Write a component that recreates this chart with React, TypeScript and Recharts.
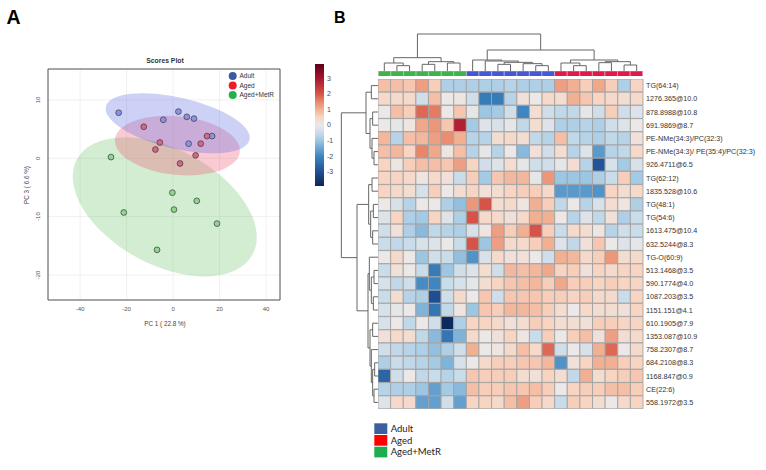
import React from 'react';
import {
  ScatterChart, Scatter, XAxis, YAxis, CartesianGrid, ReferenceArea,
  BarChart, Bar, Cell,
} from 'recharts';

const FONT = '"Liberation Sans", Arial, sans-serif';

// ---------------- Panel A : PCA scores ----------------
const adultScores = [
  { x: -23.4, y: 7.8 }, { x: -4.2, y: 6.6 }, { x: 2.3, y: 8.0 }, { x: 5.9, y: 7.1 },
  { x: 9.0, y: 6.8 }, { x: 6.7, y: 2.5 }, { x: 16.8, y: 3.8 },
];
const agedScores = [
  { x: -12.6, y: 5.4 }, { x: -5.7, y: 2.7 }, { x: -7.6, y: 1.5 }, { x: 3.0, y: -0.9 },
  { x: 9.7, y: 0.5 }, { x: 11.9, y: 2.5 }, { x: 14.6, y: 3.8 },
];
const metrScores = [
  { x: -26.7, y: 0.2 }, { x: -21.2, y: -9.3 }, { x: -0.3, y: -5.9 }, { x: 0.4, y: -8.8 },
  { x: 10.2, y: -7.3 }, { x: 18.9, y: -11.2 }, { x: -6.9, y: -15.7 },
];
// confidence ellipses: centre, end of semi-major axis, end of semi-minor axis
const adultEllipse = [{ x: 2.0, y: 6.0 }, { x: 32.9, y: 3.16 }, { x: -0.47, y: 1.71 }];
const agedEllipse = [{ x: 1.86, y: 2.17 }, { x: 28.7, y: 1.09 }, { x: 0.54, y: -2.83 }];
const metrEllipse = [{ x: -3.58, y: -8.34 }, { x: 34.2, y: -16.49 }, { x: -15.38, y: -17.04 }];
const pcaXDomain = [-53.8, 46];
const pcaYDomain = [-24.3, 15.3];
const pcaXTicks = [-40, -20, 0, 20, 40];
const pcaYTicks = [-20, -10, 0, 10];

// ---------------- Panel B : heatmap ----------------
const featureLabels = [
  'TG(64:14)', '1276.365@10.0', '878.8988@10.8', '691.9869@8.7', 'PE-NMe(34:3)/PC(32:3)',
  'PE-NMe(34:3)/ PE(35:4)/PC(32:3)', '926.4711@6.5', 'TG(62:12)', '1835.528@10.6', 'TG(48:1)',
  'TG(54:6)', '1613.475@10.4', '632.5244@8.3', 'TG-O(60:9)', '513.1468@3.5',
  '590.1774@4.0', '1087.203@3.5', '1151.151@4.1', '610.1905@7.9', '1353.087@10.9',
  '758.2307@8.7', '684.2108@8.3', '1168.847@0.9', 'CE(22:6)', '558.1972@3.5',
];
const columnGroups = [
  'Aged+MetR', 'Aged+MetR', 'Aged+MetR', 'Aged+MetR', 'Aged+MetR', 'Aged+MetR', 'Aged+MetR',
  'Adult', 'Adult', 'Adult', 'Adult', 'Adult', 'Adult', 'Adult',
  'Aged', 'Aged', 'Aged', 'Aged', 'Aged', 'Aged', 'Aged',
];
const heatValues = [
  [0.8, 0.8, 0.7, 1.2, 0.6, -0.8, -0.8, -0.8, -0.8, -0.8, -0.7, -0.8, -0.8, -0.8, 1.2, 1.0, 0.6, 1.1, 0.6, -0.8, 0.5],
  [0.4, 0.4, 0.4, -0.4, 0.8, 0, 0.1, -0.4, -2.2, -2.2, -0.7, 0.2, 0, 0.4, 0.3, 1.0, 0.7, 0.5, 0.4, 0.3, 0.4],
  [0, 0.8, 0.6, 1.8, 1.6, 0, 0.7, -0.1, -1.0, -0.9, -0.4, -2.0, 0.3, -0.4, -0.6, -0.6, -0.1, -0.4, 0.6, -0.4, -0.2],
  [0, -0.1, 0.1, 1.1, 1.3, 0.7, 2.8, -0.9, -0.2, -0.3, -0.1, -0.6, 0.3, -0.2, -0.8, -0.8, -0.7, -0.8, -0.4, -0.2, 0],
  [0.9, -0.7, 0.8, 0.9, 1.2, 1.4, 1.0, -0.7, -0.7, 0.3, 0.4, 0.3, -0.6, -0.7, 0.8, -0.6, -0.7, -0.8, -0.6, -0.7, 0.2],
  [0.8, 0.9, 0.5, 1.5, 1.1, 0.1, 0.8, -0.7, -0.1, -0.7, 0, -1.2, 0.2, -0.4, 0.3, -0.7, -0.2, -1.7, -0.7, -0.6, 0.4],
  [0.5, 0.1, 0.6, 0.8, 0.8, 0.7, 1.2, 0.5, -0.4, -0.2, 0.3, -0.1, -0.4, -0.4, -0.1, 0.3, -0.7, -2.9, -0.3, -0.9, -0.3],
  [0.5, 0.5, 0.4, 0.1, 0.4, 0.2, -0.5, 0.6, -0.9, 0.7, 0.9, 0.9, -0.1, 1.3, -1.0, -1.0, -1.0, -0.8, -0.5, 0.6, -0.9],
  [0.5, 0.4, 0.3, -0.3, 0.6, 0, 0.3, 0.5, 0.2, 0.3, 0.5, 0.6, 0.6, 0.4, -1.7, -1.7, -1.7, -1.8, 0.5, 0.3, 0.4],
  [0, -0.3, -0.7, 0, 0, -0.8, -1.1, 1.3, 2.0, 0.3, 0.4, 0.1, 1.0, 0.6, -0.6, 0, -0.7, -0.3, 0.3, 0.1, -0.8],
  [-0.2, 0.5, -0.8, -0.9, 0.5, -0.2, -0.8, 2.0, 0.4, 0.4, 0.2, 0.4, 1.0, 1.0, 0, -0.7, -0.2, -0.6, 0.2, -0.8, -0.5],
  [-0.4, 0.2, -0.8, -1.2, -0.6, -0.7, -0.8, -0.3, 0.1, 1.2, 0.6, 1.0, 2.0, 0.6, -0.5, 0.4, 0.3, 0.1, -0.7, -0.4, -0.5],
  [-0.5, -0.6, -0.5, -0.3, -0.2, 0, -0.5, 2.0, -1.0, 1.2, 0.4, 0.4, 0.6, 1.0, -0.2, -0.6, 0.2, 0.7, 0, -0.2, -0.1],
  [0, 0.4, 0, -1.0, -0.4, -0.5, -1.1, -1.8, -0.3, 0.4, 0.2, 0.2, 0, -0.4, 1.0, 0.9, 0.4, 0.6, 1.3, 0.3, 0.4],
  [-0.5, 0.2, 0, -0.5, -2.2, -1.0, -0.4, -0.2, 0.3, -0.4, 0.9, 0.8, 0.9, 1.1, 0.5, 0.6, 0.2, 0.5, 0.4, 0.5, 0.5],
  [-0.3, -0.6, -0.4, -1.9, -2.0, -0.5, -0.3, -0.1, 0.3, 0.5, 0.7, 0.8, 0.9, 0.6, 1.1, 0.6, 0.6, 0.5, 0.6, 0.5, 0.5],
  [-0.5, 0.3, -0.7, -0.8, -3.0, -0.4, 0.4, 0, 0.7, -0.4, 0.7, 0.7, 0.7, 0.6, 0.6, 0.5, 0.6, 0.4, 0.4, -0.5, 0.5],
  [-0.3, -0.1, 0, -1.3, -2.3, -0.6, 0.1, -1.0, 0.7, 0.6, 0.9, 0.9, 0.8, 0.6, 0.3, 0, 0.4, 0.3, 0.3, 0.2, 0.5],
  [-0.3, 0, -0.6, 0, -0.4, -3.8, -0.8, 0.5, 0.5, 0.4, 0.2, 0.3, 0.6, 0.5, 0.3, 0.3, 0.2, 0.6, 0.6, 0.5, 0.5],
  [0.2, 0.4, 0.3, -0.6, -1.2, -2.3, -1.3, 0.4, 0, 0.2, 0.5, 0.1, -0.5, 0.6, 0, 0.6, 0.8, 0.2, 1.2, 0.3, 0.4],
  [-0.4, -0.6, -0.7, -0.8, -1.1, -0.8, -0.4, 1.0, 0, 0.1, 0.4, 0.8, 0.4, 1.8, -0.4, 0, -0.3, 1.0, 1.8, 0, 0.4],
  [-0.8, -0.5, -0.6, -0.7, -0.9, -1.3, -0.3, 0, 0.4, 0.6, 0.6, 0.7, 0.7, 0.9, -1.8, 0.2, 0.5, 1.0, 1.0, 0.6, 0.5],
  [-2.6, -0.4, 0, -0.6, -0.5, -0.7, -0.5, 0.7, 0.6, 0.6, 0.6, 0.3, 0.2, 0.5, 0.3, -0.6, 1.0, 0.3, 0.5, 0.6, 0.7],
  [-0.7, -0.8, -0.8, -1.0, -1.6, -0.9, -1.2, 0.8, 0.6, 0.6, 0.7, 0.7, 0.8, 0.6, 0, 0.5, 0.6, 0.6, 0.8, 0.8, 0.6],
  [-0.2, 0.4, 0.4, -1.6, -1.6, -0.4, -1.6, 0.5, 0.5, 0.4, 0.8, 1.2, 0.6, 0.4, -0.5, 0.6, 0.5, 0.3, 0, 0.4, 0.5],
];
const colorbarTicks = [3, 2, 1, 0, -1, -2, -3];
const colorbarRange = [-3.9, 3.9];

type Ref = number | string;
// hierarchical clustering merges: [child a, child b, merge height]
const columnMerges: [Ref, Ref, number][] = [
  [1, 2, 16], [0, 'n0', 24], [3, 4, 20], [5, 6, 24], ['n2', 'n3', 28], ['n1', 'n4', 40],
  [12, 13, 16], [11, 'n6', 22], [9, 10, 20], ['n8', 'n7', 26], [8, 'n9', 30], [7, 'n10', 33],
  [15, 16, 16], [14, 'n12', 24], [17, 18, 25], [19, 20, 18], ['n14', 'n15', 28], ['n13', 'n16', 33],
  ['n11', 'n17', 63], ['n5', 'n18', 111],
];
const rowMerges: [Ref, Ref, number][] = [
  [0, 1, 20], [2, 3, 16], [5, 6, 12], [4, 'n2', 18], ['n1', 'n3', 24], ['n0', 'n4', 36],
  [7, 8, 18], [9, 10, 14], [11, 12, 16], ['n7', 'n8', 22], ['n6', 'n9', 28],
  [14, 15, 12], [16, 17, 14], ['n11', 'n12', 20], [13, 'n13', 26],
  [18, 19, 16], [21, 22, 10], [23, 24, 12], ['n16', 'n17', 16], [20, 'n18', 20], ['n15', 'n19', 24],
  ['n14', 'n20', 30], ['n10', 'n21', 63], ['n5', 'n22', 110],
];

// ---------------- styling ----------------
const colorStops: [number, string][] = [
  [-3.9, '#0a2755'], [-3, '#1f4f92'], [-2, '#3d86c2'], [-1, '#9cc6e2'], [-0.5, '#c9dcea'],
  [0, '#ebe8e7'], [0.5, '#f8d5c3'], [1, '#f2b093'], [1.5, '#e8866a'], [2, '#d65447'],
  [3, '#a8142c'], [3.9, '#5e0019'],
];
const stripColors: Record<string, string> = { Adult: '#4757d3', Aged: '#e3174b', 'Aged+MetR': '#3cb44a' };
const legendBColors: Record<string, string> = { Adult: '#3c5f9e', Aged: '#fe0000', 'Aged+MetR': '#1eae4f' };
const legendAColors: Record<string, string> = { Adult: '#3b5ba5', Aged: '#ee1c25', 'Aged+MetR': '#22b14c' };

function hex(h: string) {
  return [parseInt(h.slice(1, 3), 16), parseInt(h.slice(3, 5), 16), parseInt(h.slice(5, 7), 16)];
}
function heatColor(v: number) {
  const s = colorStops;
  if (v <= s[0][0]) return s[0][1];
  if (v >= s[s.length - 1][0]) return s[s.length - 1][1];
  for (let i = 0; i < s.length - 1; i++) {
    if (v >= s[i][0] && v <= s[i + 1][0]) {
      const t = (v - s[i][0]) / (s[i + 1][0] - s[i][0]);
      const a = hex(s[i][1]);
      const b = hex(s[i + 1][1]);
      const c = a.map((x, k) => Math.round(x + (b[k] - x) * t));
      return `rgb(${c[0]},${c[1]},${c[2]})`;
    }
  }
  return s[0][1];
}

function layoutTree(merges: [Ref, Ref, number][]) {
  const nodes: Record<string, { p: number; h: number }> = {};
  const get = (r: Ref) => (typeof r === 'number' ? { p: r + 0.5, h: 0 } : nodes[r]);
  return merges.map(([a, b, h], i) => {
    const A = get(a);
    const B = get(b);
    nodes['n' + i] = { p: (A.p + B.p) / 2, h };
    return [{ p: A.p, h: A.h }, { p: A.p, h }, { p: B.p, h }, { p: B.p, h: B.h }];
  });
}

const colLinks = layoutTree(columnMerges).map((l) => l.map((q) => ({ x: q.p, y: q.h })));
const rowLinks = layoutTree(rowMerges).map((l) => l.map((q) => ({ x: q.h, y: q.p })));

const nCols = columnGroups.length;
const colKeys = columnGroups.map((_, c) => 'c' + c);
const heatRows = featureLabels.map((name) => {
  const o: any = { name };
  colKeys.forEach((k) => { o[k] = 1; });
  return o;
});
const stripRow = (() => {
  const o: any = { name: 'group' };
  colKeys.forEach((k) => { o[k] = 1; });
  return [o];
})();

const emptyShape = () => <g />;

const ellipseLine = (fill: string) => (props: any) => {
  const pts = props.points;
  if (!pts || pts.length < 3) return <g />;
  const [c, a, b] = pts;
  const rx = Math.hypot(a.x - c.x, a.y - c.y);
  const ry = Math.hypot(b.x - c.x, b.y - c.y);
  const ang = (Math.atan2(a.y - c.y, a.x - c.x) * 180) / Math.PI;
  return (
    <ellipse cx={c.x} cy={c.y} rx={rx} ry={ry} transform={`rotate(${ang} ${c.x} ${c.y})`}
      fill={fill} fillOpacity={0.3} stroke="none" />
  );
};

const dot = (fill: string) => (p: any) => (
  <circle cx={p.cx} cy={p.cy} r={2.9} fill={fill} stroke="#3a3a3a" strokeWidth={0.7} />
);

const RotTick = (p: any) => (
  <text transform={`translate(${p.x},${p.y}) rotate(-90)`} textAnchor="middle"
    fontSize={6} fill="#555" fontFamily={FONT}>
    {p.payload.value}
  </text>
);

const RowLabelTick = (p: any) => (
  <text x={p.x} y={p.y} dy="0.35em" textAnchor="start" fontSize={7.2} fill="#333" fontFamily={FONT}>
    {p.payload.value}
  </text>
);

const abs = (left: number, top: number, w: number, h: number): React.CSSProperties => ({
  position: 'absolute', left, top, width: w, height: h,
});

export default function App() {
  return (
    <div style={{ position: 'absolute', left: 0, top: 0, width: 766, height: 470, background: '#fff', fontFamily: FONT, overflow: 'hidden' }}>
      <svg width={0} height={0} style={{ position: 'absolute' }}>
        <defs>
          <linearGradient id="cbGrad" x1="0" y1="0" x2="0" y2="1">
            {[...colorStops].reverse().map(([v, c], i) => (
              <stop key={i} offset={(colorbarRange[1] - v) / (colorbarRange[1] - colorbarRange[0])} stopColor={c} />
            ))}
          </linearGradient>
        </defs>
      </svg>

      {/* Panel A */}
      <div style={abs(0, 0, 300, 340)}>
        <ScatterChart width={300} height={340} margin={{ top: 69, right: 20, bottom: 10, left: 18 }}>
          <CartesianGrid stroke="#ececec" strokeWidth={0.8} />
          <XAxis type="number" dataKey="x" domain={pcaXDomain} ticks={pcaXTicks} allowDataOverflow
            axisLine={false} tickLine={false} tickSize={0} tickMargin={7} height={30}
            tick={{ fontSize: 6, fill: '#555', fontFamily: FONT }} />
          <YAxis type="number" dataKey="y" domain={pcaYDomain} ticks={pcaYTicks} allowDataOverflow
            axisLine={false} tickLine={false} tickSize={0} tickMargin={8.5} width={30} tick={RotTick} />
          <Scatter data={metrEllipse} shape={emptyShape} line={ellipseLine('#6cc46c')} lineType="joint" isAnimationActive={false} />
          <Scatter data={agedEllipse} shape={emptyShape} line={ellipseLine('#f0506e')} lineType="joint" isAnimationActive={false} />
          <Scatter data={adultEllipse} shape={emptyShape} line={ellipseLine('#5b66e0')} lineType="joint" isAnimationActive={false} />
          <Scatter data={adultScores} shape={dot('#8d92e6')} isAnimationActive={false} />
          <Scatter data={agedScores} shape={dot('#d8648a')} isAnimationActive={false} />
          <Scatter data={metrScores} shape={dot('#8fd48f')} isAnimationActive={false} />
          <ReferenceArea x1={pcaXDomain[0]} x2={pcaXDomain[1]} y1={pcaYDomain[0]} y2={pcaYDomain[1]}
            fill="none" stroke="#555" strokeWidth={1} />
        </ScatterChart>
      </div>
      <svg style={{ ...abs(0, 0, 300, 340), pointerEvents: 'none' }}>
        <text x={6.5} y={24} fontSize={19.5} fontWeight="bold" fill="#000" fontFamily={FONT}>A</text>
        <text x={165} y={63} fontSize={6.8} fontWeight="bold" textAnchor="middle" fill="#333" fontFamily={FONT}>Scores Plot</text>
        <text x={165} y={325.5} fontSize={6.3} textAnchor="middle" fill="#444" fontFamily={FONT}>PC 1 ( 22.8 %)</text>
        <text transform="translate(28.5,185) rotate(-90)" fontSize={6.3} textAnchor="middle" fill="#444" fontFamily={FONT}>PC 3 ( 6.6 %)</text>
        {['Adult', 'Aged', 'Aged+MetR'].map((g, i) => (
          <g key={g}>
            <circle cx={232.7} cy={76 + i * 9.5} r={4} fill={legendAColors[g]} />
            <text x={239.5} y={78.3 + i * 9.5} fontSize={6.5} fill="#333" fontFamily={FONT}>{g}</text>
          </g>
        ))}
      </svg>

      {/* Panel B label */}
      <svg style={{ ...abs(320, 0, 40, 30), pointerEvents: 'none' }}>
        <text x={14} y={23.3} fontSize={16} fontWeight="bold" fill="#000" fontFamily={FONT}>B</text>
      </svg>

      {/* colour scale */}
      <div style={abs(310, 64, 30, 122)}>
        <BarChart width={30} height={122} data={[{ name: 'scale', range: colorbarRange }]}
          margin={{ top: 0, right: 0, bottom: 0, left: 5 }} barCategoryGap={0}>
          <XAxis dataKey="name" hide />
          <YAxis type="number" domain={colorbarRange} ticks={colorbarTicks} orientation="right" width={16}
            allowDataOverflow axisLine={false} tickLine={false} tickSize={0} tickMargin={3}
            tick={{ fontSize: 7, fill: '#4a4a5a', fontFamily: FONT }} />
          <Bar dataKey="range" fill="url(#cbGrad)" isAnimationActive={false} />
        </BarChart>
      </div>

      {/* column dendrogram */}
      <div style={abs(378, 33, 265, 38)}>
        <ScatterChart width={265} height={38} margin={{ top: 0, right: 0, bottom: 0, left: 0 }}>
          <XAxis type="number" dataKey="x" domain={[0, nCols]} hide />
          <YAxis type="number" dataKey="y" domain={[0, 114]} hide />
          {colLinks.map((pts, i) => (
            <Scatter key={i} data={pts} shape={emptyShape} line={{ stroke: '#666', strokeWidth: 1 }}
              lineType="joint" isAnimationActive={false} />
          ))}
        </ScatterChart>
      </div>

      {/* group strip */}
      <div style={abs(378, 70.7, 265, 5.7)}>
        <BarChart width={265} height={5.7} data={stripRow} layout="vertical"
          margin={{ top: 0, right: 0, bottom: 0, left: 0 }} barCategoryGap={0}>
          <XAxis type="number" domain={[0, nCols]} hide />
          <YAxis type="category" dataKey="name" hide />
          {colKeys.map((k, c) => (
            <Bar key={k} dataKey={k} stackId="s" fill={stripColors[columnGroups[c]]}
              stroke="#c9c9c9" strokeWidth={0.6} isAnimationActive={false} />
          ))}
        </BarChart>
      </div>

      {/* row dendrogram */}
      <div style={abs(340, 79, 38, 330)}>
        <ScatterChart width={38} height={330} margin={{ top: 0, right: 0, bottom: 0, left: 0 }}>
          <XAxis type="number" dataKey="x" domain={[0, 114]} reversed hide />
          <YAxis type="number" dataKey="y" domain={[0, featureLabels.length]} reversed hide />
          {rowLinks.map((pts, i) => (
            <Scatter key={i} data={pts} shape={emptyShape} line={{ stroke: '#666', strokeWidth: 1 }}
              lineType="joint" isAnimationActive={false} />
          ))}
        </ScatterChart>
      </div>

      {/* heatmap */}
      <div style={abs(378, 79, 388, 330)}>
        <BarChart width={388} height={330} data={heatRows} layout="vertical"
          margin={{ top: 0, right: 0, bottom: 0, left: 0 }} barCategoryGap={0} barGap={0}>
          <XAxis type="number" domain={[0, nCols]} hide />
          <YAxis type="category" dataKey="name" orientation="right" width={123} interval={0}
            axisLine={false} tickLine={false} tickSize={0} tickMargin={3} tick={RowLabelTick} />
          {colKeys.map((k, c) => (
            <Bar key={k} dataKey={k} stackId="h" stroke="#a3a3a3" strokeWidth={0.9} isAnimationActive={false}>
              {heatValues.map((row, r) => (
                <Cell key={r} fill={heatColor(row[c])} />
              ))}
            </Bar>
          ))}
        </BarChart>
      </div>

      {/* group legend */}
      <svg style={{ ...abs(370, 418, 130, 45), pointerEvents: 'none' }}>
        {['Adult', 'Aged', 'Aged+MetR'].map((g, i) => (
          <g key={g}>
            <rect x={4.3} y={5.3 + i * 11.7} width={13} height={10.7} fill={legendBColors[g]} />
            <text x={20.7} y={14 + i * 11.7} fontSize={9.5} fill="#222" fontFamily="Lato, sans-serif">{g}</text>
          </g>
        ))}
      </svg>
    </div>
  );
}
